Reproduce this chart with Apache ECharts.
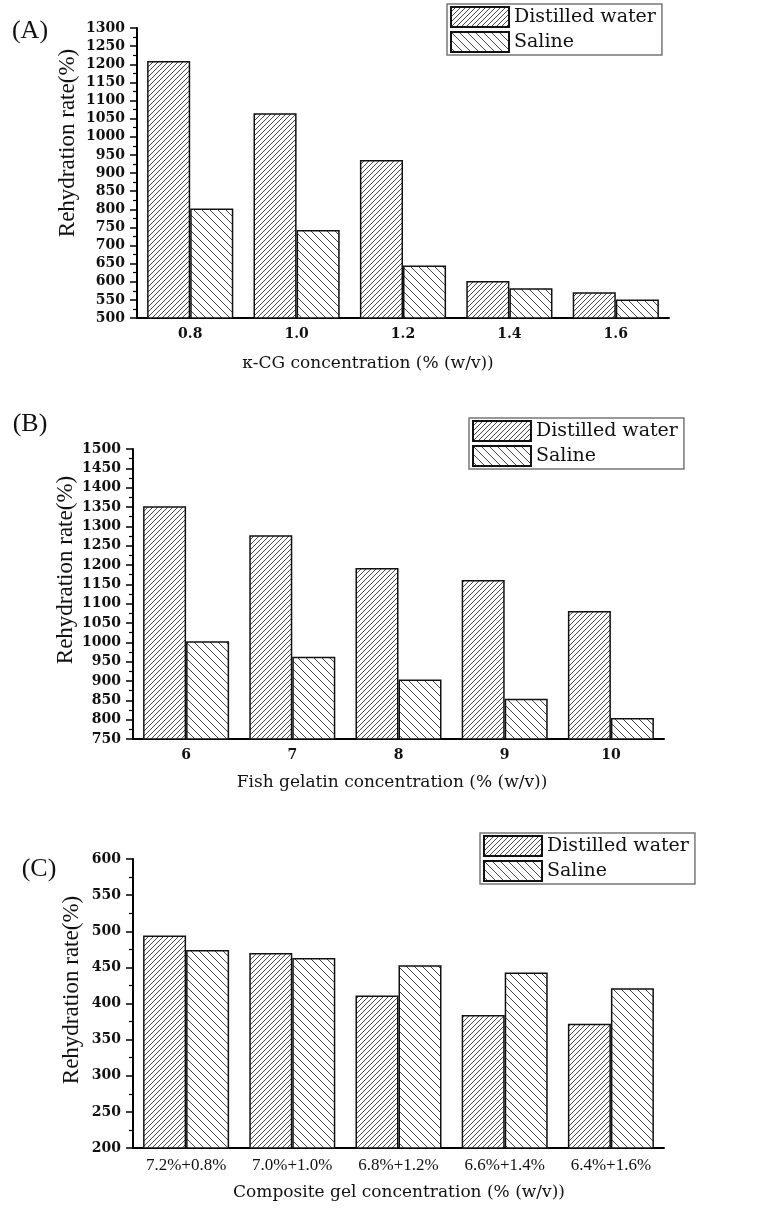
<!DOCTYPE html>
<html>
<head>
<meta charset="utf-8">
<script src="https://cdn.jsdelivr.net/npm/echarts@6/dist/echarts.min.js"></script>
<style>
  html, body { margin: 0; padding: 0; background: #fff; }
  #container { width: 767px; height: 1219px; }
</style>
</head>
<body>
<div id="container"></div>
<script>
// panel A: k-carrageenan
var cgCats = ['0.8', '1.0', '1.2', '1.4', '1.6'];
var cgWater = [1209, 1065, 936, 602, 571];
var cgSaline = [802, 743, 645, 582, 551];
// panel B: fish gelatin
var fgCats = ['6', '7', '8', '9', '10'];
var fgWater = [1352, 1277, 1192, 1161, 1081];
var fgSaline = [1003, 963, 904, 854, 804];
// panel C: composite gel
var mixCats = ['7.2%+0.8%', '7.0%+1.0%', '6.8%+1.2%', '6.6%+1.4%', '6.4%+1.6%'];
var mixWater = [494, 470, 411, 384, 372];
var mixSaline = [474, 463, 453, 443, 421];

var seriesNames = ['Distilled water', 'Saline'];

function hatch(step, tile, forward) {
    var c = document.createElement('canvas');
    c.width = tile; c.height = tile;
    var ctx = c.getContext('2d');
    ctx.fillStyle = '#fff';
    ctx.fillRect(0, 0, tile, tile);
    ctx.strokeStyle = '#333';
    ctx.lineWidth = 0.9;
    ctx.beginPath();
    for (var k = -tile; k <= tile; k += step) {
        if (forward) {
            ctx.moveTo(k, tile); ctx.lineTo(k + tile, 0);
        } else {
            ctx.moveTo(k, 0); ctx.lineTo(k + tile, tile);
        }
    }
    ctx.stroke();
    return { image: c, repeat: 'repeat' };
}
var waterFill = hatch(5, 20, true);
var salineFill = hatch(8, 24, false);

var serif = '"DejaVu Serif", serif';
var times = '"Liberation Serif", serif';

var grids = [
    { left: 137, right: 98, top: 28, height: 290 },
    { left: 133, right: 103, top: 449, height: 290 },
    { left: 133, right: 103, top: 859, height: 289 }
];
var yRanges = [[500, 1300], [750, 1500], [200, 600]];
var cats = [cgCats, fgCats, mixCats];
var water = [cgWater, fgWater, mixWater];
var saline = [cgSaline, fgSaline, mixSaline];

var xAxes = [], yAxes = [], series = [], legends = [];
var legendPos = [[447, 4], [469, 418], [480, 833]];

for (var i = 0; i < 3; i++) {
    xAxes.push({
        type: 'category', gridIndex: i, data: cats[i],
        axisLine: { lineStyle: { color: '#000', width: 2 } },
        axisTick: { alignWithLabel: true, length: 5, lineStyle: { color: '#000', width: 1.5 } },
        axisLabel: {
            color: '#111', margin: 9,
            fontFamily: i == 2 ? times : serif,
            fontSize: i == 2 ? 17 : 14,
            fontWeight: i == 2 ? 'normal' : 'bold',
            interval: 0
        }
    });
    // boundary ticks between categories
    xAxes.push({
        type: 'category', gridIndex: i, data: cats[i],
        axisLine: { show: false },
        axisTick: { length: 3, lineStyle: { color: '#000', width: 1.5 } },
        axisLabel: { show: false }
    });
    yAxes.push({
        type: 'value', gridIndex: i, min: yRanges[i][0], max: yRanges[i][1], interval: 50,
        axisLine: { show: true, lineStyle: { color: '#000', width: 2 } },
        axisTick: { show: true, length: 7, lineStyle: { color: '#000', width: 1.5 } },
        minorTick: { show: true, splitNumber: 2, length: 4, lineStyle: { color: '#000', width: 1.2 } },
        splitLine: { show: false },
        axisLabel: {
            color: '#111', fontFamily: serif, fontSize: 14, fontWeight: 'bold', margin: 12,
            formatter: function (v) { return String(v); }
        }
    });
    series.push({
        name: seriesNames[0], type: 'bar', xAxisIndex: i * 2, yAxisIndex: i,
        data: water[i], barGap: '0%', barCategoryGap: '19%',
        itemStyle: { color: waterFill, borderColor: '#111', borderWidth: 1.5 }
    });
    series.push({
        name: seriesNames[1], type: 'bar', xAxisIndex: i * 2, yAxisIndex: i,
        data: saline[i], barGap: '0%', barCategoryGap: '19%',
        itemStyle: { color: salineFill, borderColor: '#111', borderWidth: 1.5 }
    });
    legends.push({
        left: legendPos[i][0], top: legendPos[i][1], orient: 'vertical',
        data: seriesNames, icon: 'rect', itemWidth: 58, itemHeight: 20, itemGap: 3,
        padding: [2, 6, 2, 3], borderColor: '#777', borderWidth: 1.5,
        selectedMode: false,
        textStyle: { fontFamily: serif, fontSize: 19, color: '#111' }
    });
}

function label(text, x, y, size, font, rot) {
    return {
        type: 'text', x: x, y: y, rotation: rot || 0,
        style: { text: text, fill: '#111', font: size + 'px ' + font, align: 'center', verticalAlign: 'middle' }
    };
}

var dom = document.getElementById('container');
var myChart = echarts.init(dom);
var option = {
    backgroundColor: '#fff',
    animation: false,
    grid: grids,
    xAxis: xAxes,
    yAxis: yAxes,
    legend: legends,
    series: series,
    graphic: [
        label('(A)', 30, 31, 26, times),
        label('(B)', 30, 424, 26, times),
        label('(C)', 39, 869, 26, times),
        label('Rehydration rate(%)', 68, 143, 23, times, Math.PI / 2),
        label('Rehydration rate(%)', 66, 570, 23, times, Math.PI / 2),
        label('Rehydration rate(%)', 72, 990, 23, times, Math.PI / 2),
        label('κ-CG concentration (% (w/v))', 368, 364, 17, serif),
        label('Fish gelatin concentration (% (w/v))', 392, 783, 17, serif),
        label('Composite gel concentration (% (w/v))', 399, 1193, 17, serif)
    ]
};
myChart.setOption(option);
</script>
</body>
</html>
